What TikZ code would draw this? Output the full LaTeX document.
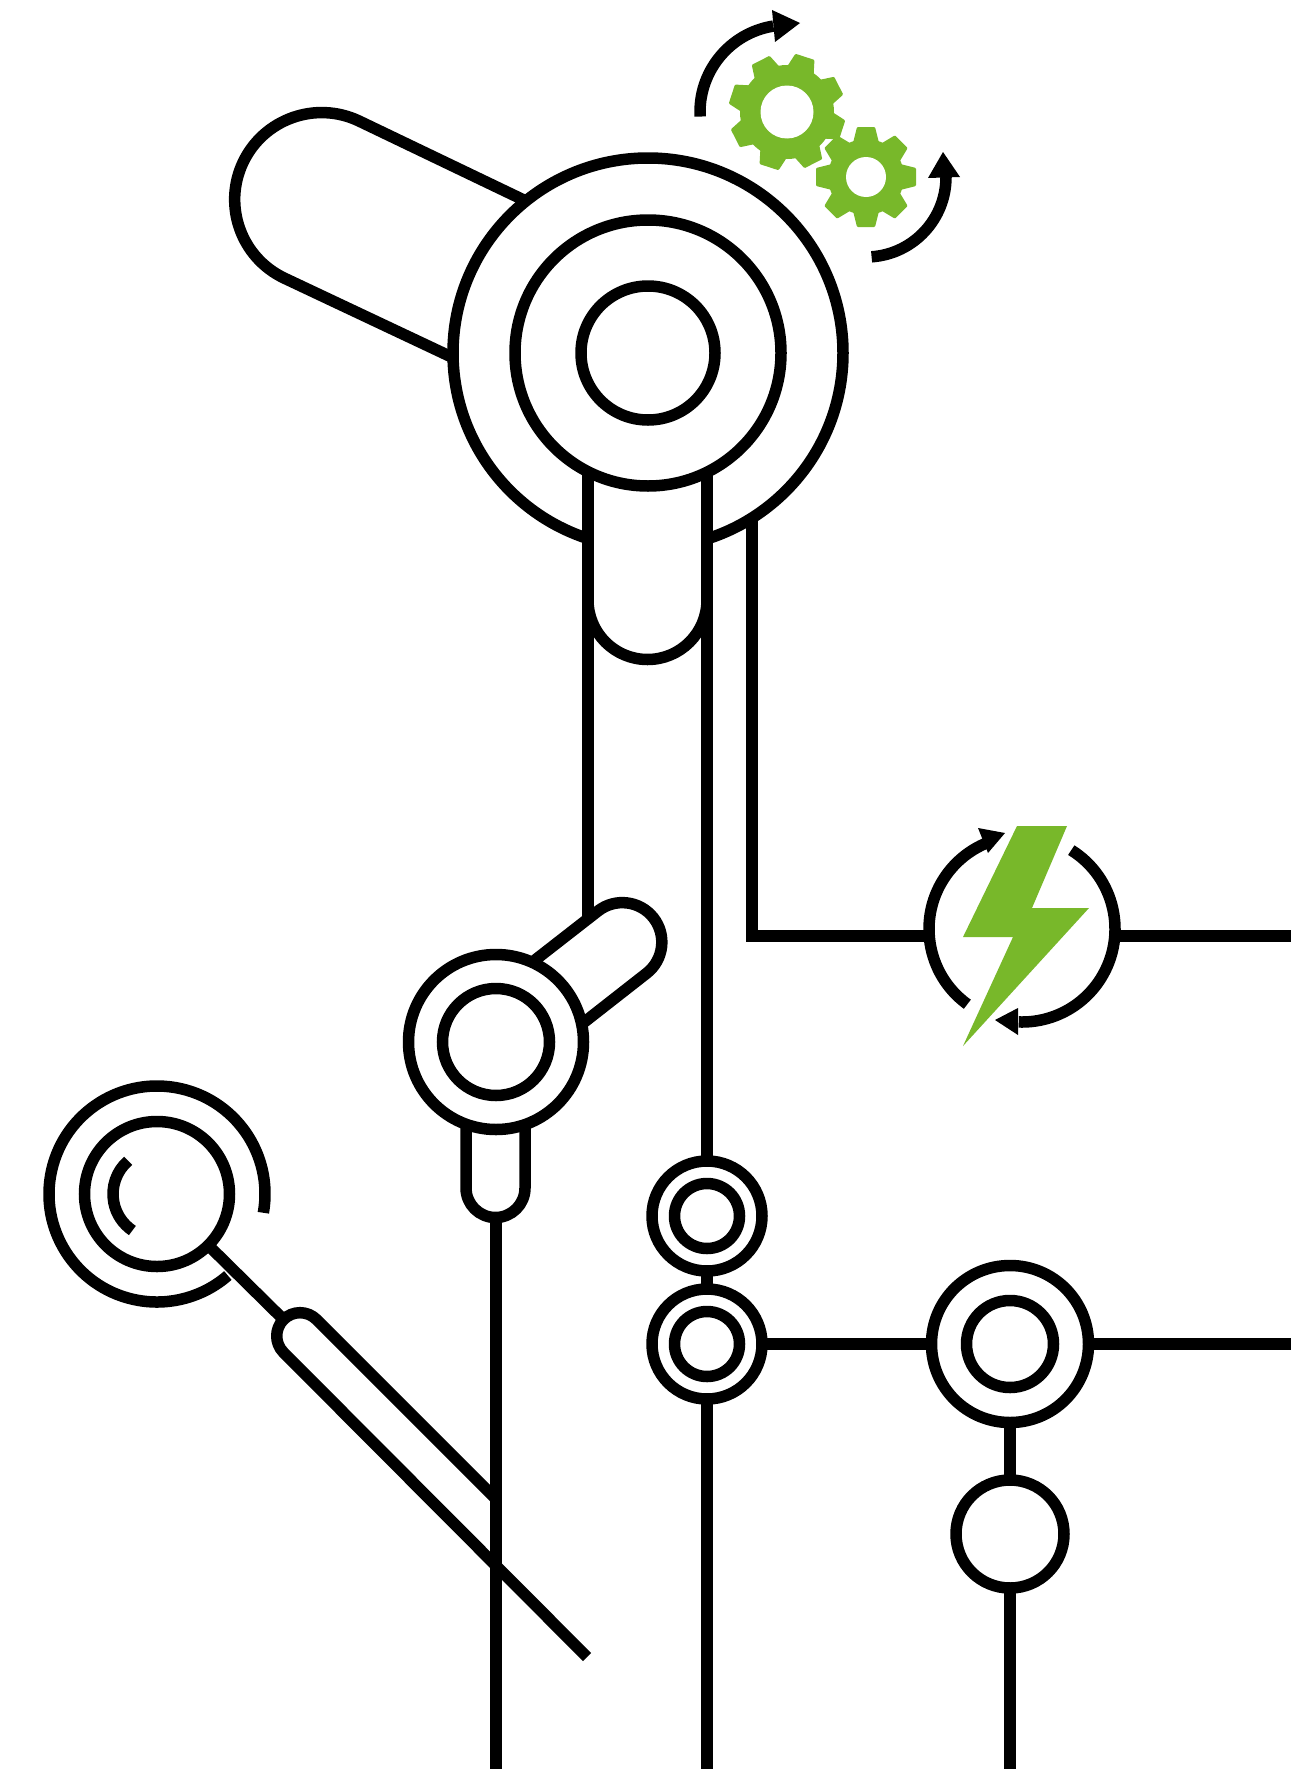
\documentclass[tikz,border=0pt]{standalone}
\definecolor{leaf}{HTML}{78B82A}
\tikzset{
  x=1pt,y=1pt,
  ln/.style={line width=11.5pt,draw=black,line cap=butt,line join=round},
  ring/.style={circle,draw=black,line width=11.5pt,fill=white,inner sep=0pt,outer sep=0pt},
  head/.style={fill=black,draw=none},
  bolt/.style={fill=leaf,draw=none},
}
\newcommand{\gearat}[8]{% x y body outer hole offset tiphalf basehalf
  \foreach \k in {0,...,7}{
    \fill[leaf,shift={(#1,#2)},rotate=#6+45*\k,rounded corners=1pt]
      (#3-4,-#8) -- (#4,-#7) -- (#4,#7) -- (#3-4,#8) -- cycle;
  }
  \fill[leaf] (#1,#2) circle[radius=#3 pt];
  \fill[white] (#1,#2) circle[radius=#5 pt];
}
\begin{document}
\begin{tikzpicture}
\useasboundingbox (0,0) rectangle (1291,-1769);
\fill[white] (0,0) rectangle (1291,-1769);
% gears
\gearat{787}{-112}{47}{58}{26.5}{27}{10}{14}
\gearat{866}{-177}{38}{50}{20}{0}{9}{13}
% top arcs
\coordinate (g1) at (787,-112);
\coordinate (g2) at (866,-177);
\draw[ln] ([shift={(183:87pt)}]g1) arc[start angle=183,end angle=99,radius=87pt];
\fill[head] (800,-23) -- (772,-10) -- (775,-42) -- cycle;
\draw[ln] ([shift={(-86:80pt)}]g2) arc[start angle=-86,end angle=0,radius=80pt];
\fill[head] (943,-152) -- (928,-178) -- (960,-177) -- cycle;
% big unit
\draw[ln] (530,-203) -- (359,-121) arc[start angle=64.6,end angle=244.6,radius=87pt] -- (460,-361);
\node[ring,minimum size=390pt] (bigo) at (648,-353) {};
\fill[white] (588,-470) rectangle (707,-600);
\draw[ln,fill=white] (588,-600) arc[start angle=180,end angle=360,radius=59.5pt];
\node[ring,minimum size=266pt] (bigm) at (648,-353) {};
\node[ring,minimum size=134pt] (bigi) at (648,-353) {};
\coordinate (vl) at (588,-472);
\coordinate (vr) at (707,-472);
\coordinate (v3) at (752,-518);
\coordinate (vlend) at (588,-917);
\draw[ln] (vl) -- (vlend);
% small dryer
\draw[ln] (530,-964) -- (598,-911) arc[start angle=128,end angle=-52,radius=39.5pt] -- (578,-1027);
\draw[ln] (466,-1120) -- (466,-1188) arc[start angle=180,end angle=360,radius=29.5pt] -- (525,-1120);
\node[ring,minimum size=175pt] (dro) at (496,-1042) {};
\node[ring,minimum size=107pt] (dri) at (496,-1042) {};
\coordinate (druend) at (496,-1218);
\coordinate (b1) at (496,-1769);
\draw[ln] (druend) -- (b1);
% paired rings
\node[ring,minimum size=110pt] (pa) at (707,-1216) {};
\node[ring,minimum size=65pt] (pai) at (707,-1216) {};
\node[ring,minimum size=110pt] (pb) at (707,-1344) {};
\node[ring,minimum size=65pt] (pbi) at (707,-1344) {};
\node[ring,minimum size=157pt] (qa) at (1010,-1344) {};
\node[ring,minimum size=87pt] (qai) at (1010,-1344) {};
\node[ring,minimum size=108pt] (qb) at (1010,-1534) {};
\coordinate (b2) at (707,-1769);
\coordinate (b3) at (1010,-1769);
\coordinate (r2) at (1291,-1344);
\draw[ln] (vr) -- (pa.north);
\draw[ln] (pa.south) -- (pb.north);
\draw[ln] (pb.south) -- (b2);
\draw[ln] (pb.east) -- (qa.west);
\draw[ln] (qa.east) -- (r2);
\draw[ln] (qa.south) -- (qb.north);
\draw[ln] (qb.south) -- (b3);
% power
\coordinate (pw) at (1022,-929);
\coordinate (pwl) at (928,-936);
\coordinate (pwr) at (1116,-936);
\coordinate (r1) at (1291,-936);
\draw[ln,line join=miter] (v3) -- (752,-936) -- (pwl);
\draw[ln] (pwr) -- (r1);
\draw[ln] ([shift={(58:93pt)}]pw) arc[start angle=58,end angle=-92,radius=93pt];
\draw[ln] ([shift={(234:93pt)}]pw) arc[start angle=234,end angle=113,radius=93pt];
\fill[head] (995,-1020) -- (1018,-1008) -- (1018,-1035) -- cycle;
\fill[head] (1005,-833) -- (978,-828) -- (988,-853) -- cycle;
\fill[bolt] (1017,-826) -- (1067,-826) -- (1032,-908) -- (1089,-908) -- (963,-1046) -- (1013,-937) -- (963,-937) -- cycle;
% magnifier
\coordinate (mg) at (157,-1194);
\draw[ln] ([shift={(-10:108pt)}]mg) arc[start angle=-10,end angle=311,radius=108pt];
\node[ring,fill=none,minimum size=145pt] (mgi) at (157,-1194) {};
\draw[ln] ([shift={(131:44pt)}]mg) arc[start angle=131,end angle=236,radius=44pt];
\draw[ln] (mgi.-45) -- (283.5,-1319.5);
\draw[ln] (496,-1499) -- (316.5,-1319.5) arc[start angle=45,end angle=225,radius=23.3pt] -- (587,-1657);
\end{tikzpicture}
\end{document}
